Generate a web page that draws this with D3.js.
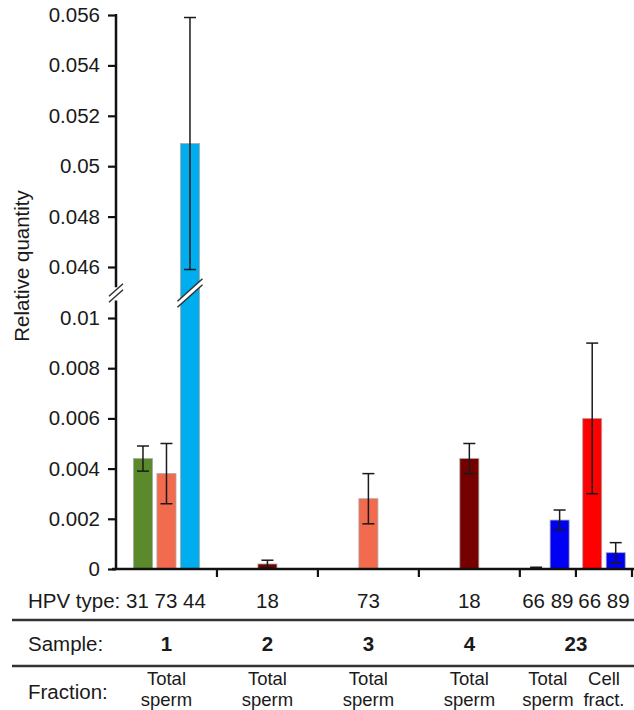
<!DOCTYPE html>
<html>
<head>
<meta charset="utf-8">
<script src="https://cdn.jsdelivr.net/npm/d3@7"></script>
<style>
  body { margin: 0; background: #fff; }
  svg text { font-family: "Liberation Sans", Arial, sans-serif; fill: #1a1a1a; }
</style>
</head>
<body>
<div id="chart"></div>
<script>
(function(d3) {
  'use strict';

  // one entry per bar group (fraction column)
  var sampleIds = ['1', '2', '3', '4', '23', '23'];
  var fractions = [['Total', 'sperm'], ['Total', 'sperm'], ['Total', 'sperm'],
                   ['Total', 'sperm'], ['Total', 'sperm'], ['Cell', 'fract.']];
  var hpvTypes = [['31', '73', '44'], ['18'], ['73'], ['18'], ['66', '89'], ['66', '89']];
  var values = [[0.0044, 0.0038, 0.0509], [0.0002], [0.0028], [0.0044],
                [0.00002, 0.00195], [0.006, 0.00065]];
  var errors = [[0.0005, 0.0012, 0.005], [0.00015], [0.001], [0.0006],
                [0.00005, 0.0004], [0.003, 0.0004]];
  var lowTicks = [0, 0.002, 0.004, 0.006, 0.008, 0.01];
  var highTicks = [0.046, 0.048, 0.05, 0.052, 0.054, 0.056];

  var width = 634, height = 710;
  var axisX = 116, plotRight = 632, baseY = 569;
  var lowTop = 0.0107, highBottom = 0.0452;
  var pitch = 23.5;
  var groupWeights = [1.8, 1.8, 1.8, 1.8, 1, 1];

  var typeColor = d3.scaleOrdinal()
    .domain(['31', '73', '44', '18', '66', '89'])
    .range(['#5b8a2d', '#f36b4f', '#00aeef', '#760000', '#ff0000', '#0000f5']);

  var svg = d3.select('#chart').append('svg')
    .attr('width', width)
    .attr('height', height);

  var yLow = d3.scaleLinear().domain([0, 0.01]).range([baseY, 318]);
  var yHigh = d3.scaleLinear().domain([0.046, 0.056]).range([267, 15]);
  var yVal = function(v) { return v > lowTop ? yHigh(v) : yLow(v); };

  // group boundaries along the category axis
  var cum = [0];
  groupWeights.forEach(function(w, i) { cum.push(cum[i] + w); });
  var xg = d3.scaleLinear().domain([0, cum[cum.length - 1]]).range([axisX, plotRight]);
  var groups = sampleIds.map(function(s, i) {
    var x0 = xg(cum[i]), x1 = xg(cum[i + 1]);
    var n = hpvTypes[i].length;
    var c = (x0 + x1) / 2;
    var inner = d3.scaleBand().domain(d3.range(n))
      .range([c - n * pitch / 2, c + n * pitch / 2])
      .paddingInner(0.19).paddingOuter(0.095);
    return { i: i, sample: s, x0: x0, x1: x1, c: c, inner: inner };
  });

  var bars = [];
  groups.forEach(function(g) {
    hpvTypes[g.i].forEach(function(t, j) {
      bars.push({ g: g, j: j, type: t, v: values[g.i][j], e: errors[g.i][j],
        x: g.inner(j), w: g.inner.bandwidth() });
    });
  });

  // axes
  var fmt = d3.format('~g');
  var axisLow = svg.append('g')
    .attr('transform', 'translate(' + axisX + ',0)')
    .call(d3.axisLeft(yLow).tickValues(lowTicks).tickSize(8).tickPadding(8).tickFormat(fmt));
  var axisHigh = svg.append('g')
    .attr('transform', 'translate(' + axisX + ',0)')
    .call(d3.axisLeft(yHigh).tickValues(highTicks).tickSize(8).tickPadding(8).tickFormat(fmt));
  [axisLow, axisHigh].forEach(function(a) {
    a.select('.domain').remove();
    a.selectAll('line').attr('stroke', '#111').attr('stroke-width', 2.2);
    a.selectAll('text').attr('font-size', 20.5).attr('fill', '#1a1a1a')
      .attr('font-family', '"Liberation Sans", Arial, sans-serif');
  });
  svg.append('line')
    .attr('x1', axisX).attr('x2', axisX)
    .attr('y1', yHigh(0.056) - 1).attr('y2', yHigh(highBottom))
    .attr('stroke', '#111').attr('stroke-width', 2.5);
  svg.append('line')
    .attr('x1', axisX).attr('x2', axisX)
    .attr('y1', yLow(lowTop)).attr('y2', baseY + 1)
    .attr('stroke', '#111').attr('stroke-width', 2.5);

  // bars
  svg.append('g').selectAll('rect').data(bars).enter().append('rect')
    .attr('x', function(d) { return d.x; })
    .attr('y', function(d) { return yVal(d.v); })
    .attr('width', function(d) { return d.w; })
    .attr('height', function(d) { return baseY - yVal(d.v); })
    .attr('fill', function(d) { return typeColor(d.type); })
    .attr('stroke', '#a8a8a8')
    .attr('stroke-width', 0.8);

  // error bars
  var eb = svg.append('g').selectAll('g').data(bars).enter().append('g')
    .attr('stroke', '#1a1a1a').attr('stroke-width', 1.5);
  eb.append('line')
    .attr('x1', function(d) { return d.x + d.w / 2; })
    .attr('x2', function(d) { return d.x + d.w / 2; })
    .attr('y1', function(d) { return yVal(d.v + d.e); })
    .attr('y2', function(d) { return yVal(Math.max(0, d.v - d.e)); });
  [1, -1].forEach(function(s) {
    eb.append('line')
      .attr('x1', function(d) { return d.x + d.w / 2 - 6; })
      .attr('x2', function(d) { return d.x + d.w / 2 + 6; })
      .attr('y1', function(d) { return yVal(Math.max(0, d.v + s * d.e)); })
      .attr('y2', function(d) { return yVal(Math.max(0, d.v + s * d.e)); });
  });

  // axis break marks (on the axis and on the broken bar)
  function breakMark(cx, half) {
    var yA = 290, yB = 296, k = 0.9;
    var g = svg.append('g');
    g.append('polygon')
      .attr('points', [
        [cx - half, yA + k * half], [cx + half, yA - k * half],
        [cx + half, yB - k * half], [cx - half, yB + k * half]
      ].join(' '))
      .attr('fill', '#fff');
    [yA, yB].forEach(function(y) {
      g.append('line')
        .attr('x1', cx - half).attr('y1', y + k * half)
        .attr('x2', cx + half).attr('y2', y - k * half)
        .attr('stroke', '#333').attr('stroke-width', 1.5);
    });
  }
  breakMark(axisX, 7);
  bars.filter(function(d) { return d.v > lowTop; }).forEach(function(d) {
    breakMark(d.x + d.w / 2, d.w / 2 + 3);
  });

  // category axis
  svg.append('line')
    .attr('x1', axisX - 4).attr('x2', width)
    .attr('y1', baseY).attr('y2', baseY)
    .attr('stroke', '#111').attr('stroke-width', 2.5);
  svg.append('g').selectAll('line').data(groups).enter().append('line')
    .attr('x1', function(d) { return d.x1; })
    .attr('x2', function(d) { return d.x1; })
    .attr('y1', baseY).attr('y2', baseY + 8)
    .attr('stroke', '#111').attr('stroke-width', 2.2);

  // y title
  svg.append('text')
    .attr('transform', 'translate(29,266) rotate(-90)')
    .attr('text-anchor', 'middle')
    .attr('font-size', 20.5)
    .text('Relative quantity');

  // table rows under the chart
  var rowX = 28;
  svg.append('g').selectAll('text').data(groups).enter().append('text')
    .attr('x', function(d) { return d.i === 0 ? rowX : d.c; })
    .attr('y', 608)
    .attr('font-size', 20.5)
    .attr('text-anchor', function(d) { return d.i === 0 ? 'start' : 'middle'; })
    .text(function(d) { return (d.i === 0 ? 'HPV type: ' : '') + hpvTypes[d.i].join(' '); });

  [620, 666].forEach(function(y) {
    svg.append('line')
      .attr('x1', 12).attr('x2', width)
      .attr('y1', y).attr('y2', y)
      .attr('stroke', '#333').attr('stroke-width', 2.5);
  });

  svg.append('text').attr('x', rowX).attr('y', 651).attr('font-size', 20.5).text('Sample:');
  var sampleSpans = d3.rollups(groups, function(v) {
    return (d3.min(v, function(d) { return d.x0; }) + d3.max(v, function(d) { return d.x1; })) / 2;
  }, function(d) { return d.sample; });
  svg.append('g').selectAll('text').data(sampleSpans).enter().append('text')
    .attr('x', function(d) { return d[1]; })
    .attr('y', 651)
    .attr('font-size', 20.5)
    .attr('font-weight', 'bold')
    .attr('text-anchor', 'middle')
    .text(function(d) { return d[0]; });

  svg.append('text').attr('x', rowX).attr('y', 699).attr('font-size', 20.5).text('Fraction:');
  var fr = svg.append('g').selectAll('text').data(groups).enter().append('text')
    .attr('font-size', 18.5)
    .attr('text-anchor', 'middle');
  fr.append('tspan')
    .attr('x', function(d) { return d.c; }).attr('y', 685)
    .text(function(d) { return fractions[d.i][0]; });
  fr.append('tspan')
    .attr('x', function(d) { return d.c; }).attr('y', 706)
    .text(function(d) { return fractions[d.i][1]; });
}(d3));
</script>
</body>
</html>
